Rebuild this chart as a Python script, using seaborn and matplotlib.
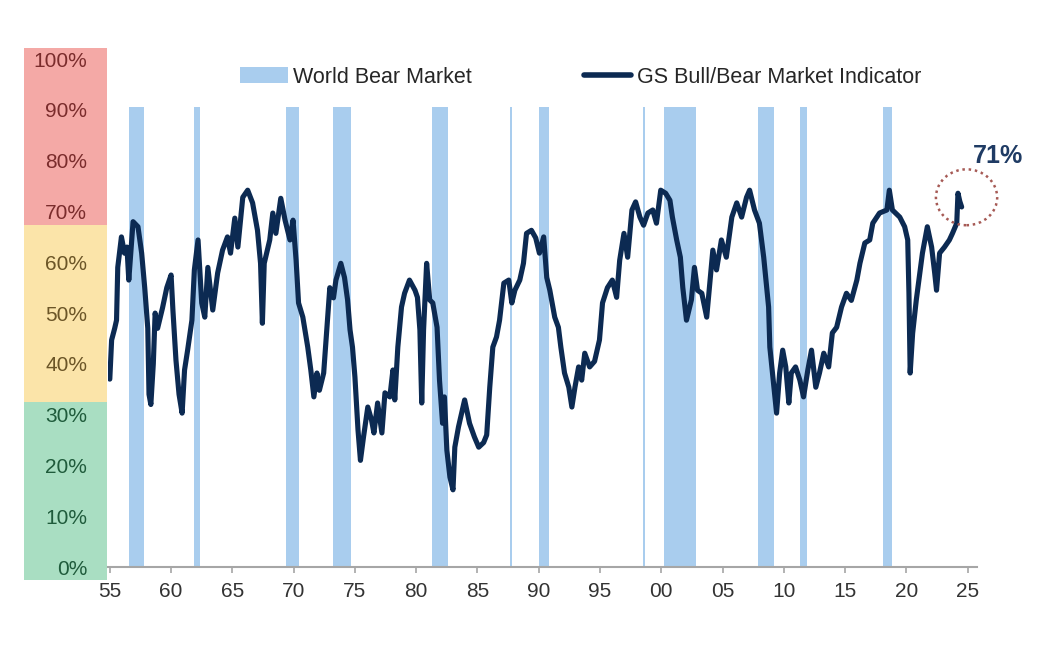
"""GS Bull/Bear Market Indicator vs world bear markets."""

import matplotlib
matplotlib.use("Agg")
import matplotlib.pyplot as plt
import matplotlib.transforms as mtransforms
from matplotlib.lines import Line2D
from matplotlib.patches import Ellipse, Patch, Rectangle
import pandas as pd
import seaborn as sns

# indicator readings (year, % value)
years = [
    1955.0, 1955.15, 1955.4, 1955.55, 1955.65, 1955.95, 1956.2, 1956.4, 1956.55, 1956.9,
    1957.3, 1957.6, 1957.85, 1958.1, 1958.2, 1958.35, 1958.55, 1958.7, 1958.9, 1959.3,
    1959.65, 1960.0, 1960.15, 1960.4, 1960.65, 1960.9, 1961.1, 1961.35, 1961.7, 1961.9,
    1962.2, 1962.5, 1962.75, 1963.0, 1963.4, 1963.8, 1964.2, 1964.6, 1964.85, 1965.2,
    1965.45, 1965.85, 1966.25, 1966.65, 1967.05, 1967.3, 1967.45, 1967.6, 1968.05, 1968.3,
    1968.55, 1968.95, 1969.3, 1969.7, 1969.95, 1970.2, 1970.4, 1970.75, 1971.15, 1971.4,
    1971.65, 1971.9, 1972.1, 1972.45, 1972.6, 1972.95, 1973.25, 1973.45, 1973.85, 1974.15,
    1974.4, 1974.6, 1974.8, 1975.0, 1975.25, 1975.45, 1975.7, 1976.05, 1976.35, 1976.55,
    1976.85, 1977.2, 1977.45, 1977.85, 1978.1, 1978.25, 1978.5, 1978.8, 1979.05, 1979.45,
    1979.9, 1980.1, 1980.3, 1980.45, 1980.6, 1980.85, 1981.1, 1981.35, 1981.7, 1981.9,
    1982.15, 1982.3, 1982.5, 1982.75, 1983.0, 1983.15, 1983.45, 1983.95, 1984.35, 1984.75,
    1985.1, 1985.5, 1985.75, 1986.0, 1986.25, 1986.55, 1986.8, 1987.15, 1987.55, 1987.8,
    1988.05, 1988.45, 1988.75, 1989.0, 1989.4, 1989.75, 1990.05, 1990.4, 1990.65, 1990.9,
    1991.3, 1991.6, 1991.8, 1992.1, 1992.45, 1992.7, 1992.95, 1993.25, 1993.5, 1993.75,
    1994.15, 1994.55, 1994.95, 1995.2, 1995.6, 1996.0, 1996.35, 1996.6, 1996.95, 1997.25,
    1997.6, 1997.9, 1998.25, 1998.55, 1998.9, 1999.3, 1999.6, 1999.95, 2000.35, 2000.7,
    2000.9, 2001.25, 2001.55, 2001.75, 2002.05, 2002.45, 2002.7, 2002.95, 2003.3, 2003.7,
    2003.95, 2004.2, 2004.5, 2004.9, 2005.3, 2005.75, 2006.15, 2006.55, 2006.95, 2007.2,
    2007.6, 2008.0, 2008.35, 2008.6, 2008.75, 2008.85, 2009.1, 2009.4, 2009.65, 2009.9,
    2010.15, 2010.4, 2010.6, 2010.95, 2011.3, 2011.6, 2011.95, 2012.25, 2012.6, 2012.9,
    2013.25, 2013.65, 2013.95, 2014.3, 2014.7, 2015.1, 2015.5, 2015.95, 2016.2, 2016.6,
    2017.0, 2017.25, 2017.8, 2018.4, 2018.6, 2018.85, 2019.45, 2019.85, 2020.1, 2020.2,
    2020.3, 2020.5, 2020.8, 2021.3, 2021.7, 2022.05, 2022.3, 2022.45, 2022.7, 2023.1,
    2023.5, 2023.75, 2024.1, 2024.2, 2024.35, 2024.5,
]
indicator = [
    37.0, 44.7, 47.0, 48.6, 59.0, 65.0, 61.8, 63.0, 56.5, 68.0,
    67.0, 61.8, 55.0, 47.0, 34.0, 32.0, 40.0, 50.0, 47.0, 51.0,
    55.0, 57.5, 50.6, 40.7, 34.0, 30.3, 38.8, 42.7, 48.6, 58.5,
    64.4, 52.0, 49.2, 59.0, 50.6, 57.9, 62.4, 65.0, 61.8, 68.7,
    63.0, 72.8, 74.2, 71.7, 66.3, 59.8, 48.0, 59.8, 64.4, 69.7,
    65.7, 72.6, 68.3, 64.4, 68.3, 60.4, 52.0, 49.2, 43.3, 38.8,
    33.5, 38.2, 34.8, 38.2, 43.3, 55.0, 53.0, 56.5, 59.8, 57.0,
    52.6, 46.7, 43.3, 37.4, 27.0, 21.0, 25.6, 31.5, 29.0, 26.4,
    32.3, 26.4, 34.3, 33.5, 38.8, 32.9, 43.3, 51.2, 53.9, 56.5,
    54.5, 53.1, 46.7, 32.3, 46.7, 59.8, 52.6, 52.0, 47.2, 36.8,
    28.3, 33.5, 23.0, 17.7, 15.2, 23.6, 27.6, 32.9, 28.3, 25.6,
    23.6, 24.5, 26.0, 35.4, 43.3, 45.3, 48.6, 55.9, 56.5, 52.0,
    54.5, 56.5, 59.8, 65.7, 66.3, 64.8, 61.8, 65.0, 57.0, 54.5,
    49.2, 47.2, 43.3, 38.2, 35.4, 31.5, 35.4, 39.4, 36.8, 42.1,
    39.4, 40.5, 44.7, 52.0, 55.0, 56.5, 53.1, 60.4, 65.7, 61.0,
    70.3, 71.9, 68.9, 67.3, 69.7, 70.3, 67.7, 74.2, 73.6, 72.2,
    68.9, 64.4, 61.0, 55.0, 48.6, 52.6, 59.0, 54.5, 53.9, 49.2,
    55.9, 62.4, 58.5, 64.4, 61.0, 68.9, 71.7, 68.9, 72.8, 74.2,
    70.3, 67.7, 61.0, 55.0, 51.2, 43.3, 37.4, 30.3, 38.2, 42.7,
    39.4, 32.3, 38.2, 39.4, 36.8, 33.5, 38.8, 42.7, 35.4, 38.2,
    42.1, 39.4, 46.1, 47.2, 51.2, 53.9, 52.5, 56.5, 59.8, 63.8,
    64.4, 67.7, 69.7, 70.3, 74.2, 70.3, 68.9, 67.0, 64.4, 53.9,
    38.2, 46.0, 52.6, 61.8, 67.0, 63.0, 57.9, 54.5, 61.8, 63.0,
    64.4, 65.7, 67.7, 73.6, 72.0, 70.9,
]

# world bear market periods
bear_start = [1956.55, 1961.85, 1969.4, 1973.2, 1981.3, 1987.65, 1990.0, 1998.5, 2000.2, 2007.85, 2011.35, 2018.05]
bear_end = [1957.8, 1962.4, 1970.4, 1974.7, 1982.6, 1987.8, 1990.8, 1998.65, 2002.8, 2009.15, 2011.85, 2018.8]
bear_top = 90.5

# coloured zones behind the y tick labels
zone_edges = [-2.6, 32.5, 67.3, 102.2]
zone_colors = ["#a9dec2", "#fbe4a9", "#f4a9a6"]
zone_text_colors = ["#1f5b3b", "#6b5527", "#7a2c2c"]

x_ticks = [1955, 1960, 1965, 1970, 1975, 1980, 1985, 1990, 1995, 2000, 2005, 2010, 2015, 2020, 2025]
x_labels = ["55", "60", "65", "70", "75", "80", "85", "90", "95", "00", "05", "10", "15", "20", "25"]
y_ticks = [0, 10, 20, 30, 40, 50, 60, 70, 80, 90, 100]

latest_label = "71%"

NAVY = "#0c2a52"
BEAR_BLUE = "#a9cdee"


def main():
    sns.set_style("white")
    plt.rcParams["font.family"] = ["Liberation Sans", "DejaVu Sans"]

    df = pd.DataFrame({"year": years, "value": indicator})

    fig = plt.figure(figsize=(10.44, 6.45), dpi=100)
    ax = fig.add_axes([0.1034, 0.1209, 0.8324, 0.8047])

    widths = [e - s for s, e in zip(bear_start, bear_end)]
    ax.bar(bear_start, [bear_top] * len(bear_start), width=widths, align="edge",
           color=BEAR_BLUE, linewidth=0, zorder=1)

    sns.lineplot(data=df, x="year", y="value", ax=ax, color=NAVY, linewidth=3.7,
                 estimator=None, zorder=3)

    ax.set_xlim(1954.85, 2025.75)
    ax.set_ylim(0, 102.2)

    # zones in the label gutter
    trans = mtransforms.blended_transform_factory(ax.transAxes, ax.transData)
    for lo, hi, col in zip(zone_edges[:-1], zone_edges[1:], zone_colors):
        ax.add_patch(Rectangle((-0.0965, lo), 0.095, hi - lo, transform=trans,
                               facecolor=col, edgecolor="none", clip_on=False, zorder=0))

    ax.set_xticks(x_ticks)
    ax.set_xticklabels(x_labels)
    ax.set_yticks(y_ticks)
    ax.set_yticklabels([f"{v}%" for v in y_ticks])
    for lab, v in zip(ax.get_yticklabels(), y_ticks):
        idx = 0 if v <= 30 else (1 if v <= 60 else 2)
        lab.set_color(zone_text_colors[idx])

    ax.tick_params(axis="y", length=0, pad=15, labelsize=15)
    ax.tick_params(axis="x", length=4, width=1.2, color="#a6a6a6", pad=7,
                   labelsize=15, labelcolor="#333333", bottom=True)
    ax.set_xlabel("")
    ax.set_ylabel("")

    for side in ["top", "right", "left"]:
        ax.spines[side].set_visible(False)
    ax.spines["bottom"].set_color("#a6a6a6")
    ax.spines["bottom"].set_linewidth(1.5)

    handles = [
        Patch(facecolor=BEAR_BLUE, edgecolor="none", label="World Bear Market"),
        Line2D([0], [0], color=NAVY, linewidth=4, label="GS Bull/Bear Market Indicator"),
    ]
    ax.legend(handles=handles, loc="center", bbox_to_anchor=(0.544, 0.944), ncol=2,
              frameon=False, fontsize=15.5, handlelength=2.2, handletextpad=0.25,
              columnspacing=5.2, labelcolor="#262626")

    # latest reading callout
    ax.add_patch(Ellipse((2024.9, 72.8), 5.0, 11.0, fill=False, edgecolor="#a65a55",
                         linestyle=(0, (1, 1.5)), linewidth=1.8, clip_on=False, zorder=4))
    ax.text(2027.5, 81, latest_label, ha="center", va="center", fontsize=18,
            fontweight="bold", color="#1f3b64", clip_on=False)

    fig.savefig("out.png", dpi=100)
    plt.close(fig)


if __name__ == "__main__":
    main()
